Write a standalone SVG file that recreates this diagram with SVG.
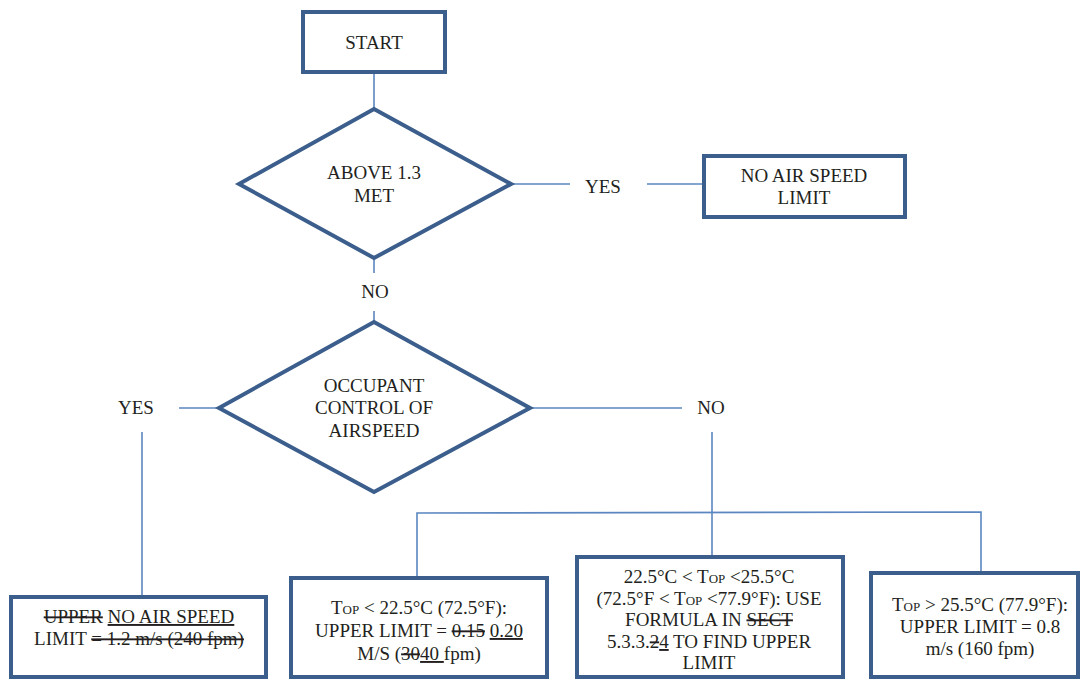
<svg xmlns="http://www.w3.org/2000/svg" width="1081" height="681" viewBox="0 0 1081 681">
<style>
.box{fill:#fff;stroke:#3b5e8c;stroke-width:4}
.dia{fill:#fff;stroke:#3b5e8c;stroke-width:4;stroke-linejoin:miter}
.ln{fill:none;stroke:#5b86c0;stroke-width:1.6}
text{font-family:"Liberation Serif","Times New Roman",serif;font-size:19px;fill:#231f20;text-anchor:middle}
.sub{font-size:13px}
.st{text-decoration:line-through}
.ul{text-decoration:underline}
</style>
<rect width="1081" height="681" fill="#fff"/>
<g id="connectors">
<line class="ln" x1="374" y1="73" x2="374" y2="108"/>
<line class="ln" x1="513" y1="184" x2="570" y2="184"/>
<line class="ln" x1="647" y1="184" x2="702" y2="184"/>
<line class="ln" x1="374" y1="259" x2="374" y2="273"/>
<line class="ln" x1="374" y1="311" x2="374" y2="321"/>
<line class="ln" x1="179" y1="408" x2="217" y2="408"/>
<line class="ln" x1="142" y1="432" x2="142" y2="596"/>
<line class="ln" x1="531" y1="408" x2="682" y2="408"/>
<line class="ln" x1="712" y1="432" x2="712" y2="556"/>
<polyline class="ln" points="417,577 417,513 981,512 981,572"/>
<text x="603" y="193">YES</text>
<text x="375" y="298">NO</text>
<text x="136" y="414">YES</text>
<text x="711" y="414">NO</text>
</g>
<g id="start">
<rect class="box" x="303" y="12" width="142" height="60"/>
<text x="374" y="49">START</text>
</g>
<g id="above-met">
<polygon class="dia" points="374,109 511,184 374,258 239,184"/>
<text x="374" y="179">ABOVE 1.3</text>
<text x="374" y="202">MET</text>
</g>
<g id="no-limit">
<rect class="box" x="704" y="156" width="201" height="61"/>
<text x="804" y="182">NO AIR SPEED</text>
<text x="804" y="204">LIMIT</text>
</g>
<g id="occupant-control">
<polygon class="dia" points="374,322 530,408 374,492 219,408"/>
<text x="374" y="392">OCCUPANT</text>
<text x="374" y="414">CONTROL OF</text>
<text x="374" y="437">AIRSPEED</text>
</g>
<g id="box-yes">
<rect class="box" x="11" y="597" width="255" height="80"/>
<text x="139" y="623"><tspan class="st">UPPER</tspan> <tspan class="ul">NO AIR SPEED</tspan></text>
<text x="139" y="645">LIMIT <tspan class="st">= 1.2 m/s  (240 fpm)</tspan></text>
</g>
<g id="box-low">
<rect class="box" x="291" y="578" width="256" height="99"/>
<text x="419" y="614">T<tspan class="sub">OP</tspan> &lt; 22.5°C (72.5°F):</text>
<text x="419" y="637">UPPER LIMIT = <tspan class="st">0.15</tspan> <tspan class="ul">0.20</tspan></text>
<text x="419" y="660">M/S (<tspan class="st">30</tspan><tspan class="ul">40 </tspan>fpm)</text>
</g>
<g id="box-mid">
<rect class="box" x="577" y="557" width="266" height="120"/>
<text x="709" y="583">22.5°C &lt; T<tspan class="sub">OP</tspan> &lt;25.5°C</text>
<text x="709" y="605">(72.5°F &lt; T<tspan class="sub">OP</tspan> &lt;77.9°F): USE</text>
<text x="709" y="626">FORMULA IN <tspan class="st">SECT</tspan></text>
<text x="709" y="648">5.3.3.<tspan class="st">2</tspan><tspan class="ul">4</tspan> TO FIND UPPER</text>
<text x="709" y="669">LIMIT</text>
</g>
<g id="box-high">
<rect class="box" x="871" y="573" width="207" height="104"/>
<text x="980" y="611">T<tspan class="sub">OP</tspan> &gt; 25.5°C (77.9°F):</text>
<text x="980" y="633">UPPER LIMIT = 0.8</text>
<text x="980" y="655">m/s (160 fpm)</text>
</g>
</svg>
